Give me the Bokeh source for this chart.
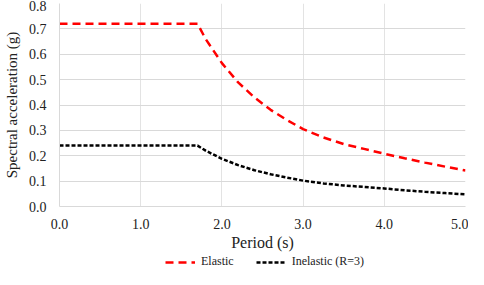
from bokeh.plotting import figure
from bokeh.layouts import column
from bokeh.models import Legend, LegendItem, Range1d, FixedTicker
from bokeh.embed import file_html
from bokeh.resources import INLINE

period = [0.0, 1.7, 1.8, 2.0, 2.2, 2.4, 2.6, 2.8, 3.0, 3.25, 3.5, 3.75, 4.0, 4.25, 4.5, 4.75, 5.0]
elastic = [0.72, 0.72, 0.66, 0.565, 0.489, 0.43, 0.381, 0.341, 0.305, 0.272, 0.246, 0.227, 0.208, 0.19, 0.173, 0.157, 0.142]
inelastic = [0.24, 0.24, 0.22, 0.188, 0.163, 0.143, 0.127, 0.114, 0.102, 0.091, 0.083, 0.077, 0.071, 0.064, 0.058, 0.053, 0.048]

x_ticks = [0, 1, 2, 3, 4, 5]
y_ticks = [0.0, 0.1, 0.2, 0.3, 0.4, 0.5, 0.6, 0.7, 0.8]
FONT = "Liberation Serif"
RED = "#ff0000"
RED_DASH = "8 5"
BLACK_DASH = "4 2"

p = figure(width=468, height=253, output_backend="svg", toolbar_location=None,
           x_range=Range1d(0, 5), y_range=Range1d(0, 0.8),
           min_border_left=50, min_border_right=3, min_border_top=3, min_border_bottom=0)
p.outline_line_color = None
p.background_fill_color = "white"

p.line(period, elastic, line_color=RED, line_width=2.5, line_dash=RED_DASH)
p.line(period, inelastic, line_color="black", line_width=2.5, line_dash=BLACK_DASH)

for ax in (p.xaxis[0], p.yaxis[0]):
    ax.major_tick_line_color = None
    ax.minor_tick_line_color = None
    ax.axis_line_color = "#d9d9d9"
    ax.major_label_text_font = FONT
    ax.major_label_text_font_size = "14px"
    ax.major_label_text_color = "#222222"
    ax.axis_label_text_font = FONT
    ax.axis_label_text_font_style = "normal"
    ax.axis_label_text_color = "#222222"

p.yaxis.axis_label_text_font_size = "15px"
p.xaxis.axis_label_text_font_size = "16px"
p.xaxis.ticker = FixedTicker(ticks=x_ticks)
p.yaxis.ticker = FixedTicker(ticks=y_ticks)
p.xaxis.major_label_overrides = {t: f"{t:.1f}" for t in x_ticks}
p.yaxis.major_label_overrides = {t: f"{t:.1f}" for t in y_ticks}
p.xaxis.axis_label = "Period (s)"
p.yaxis.axis_label = "Spectral acceleration (g)"
p.xaxis.major_label_standoff = 6
p.xaxis.axis_label_standoff = 2
p.yaxis.major_label_standoff = 7
p.yaxis.axis_label_standoff = 6

p.xgrid.ticker = FixedTicker(ticks=x_ticks)
p.ygrid.ticker = FixedTicker(ticks=y_ticks)
p.xgrid.grid_line_color = "#e3e3e3"
p.ygrid.grid_line_color = "#d9d9d9"

# legend strip below the chart (its lines lie outside the visible range)
lf = figure(width=468, height=16, output_backend="svg", toolbar_location=None,
            x_axis_type=None, y_axis_type=None, x_range=Range1d(0, 5), y_range=Range1d(10, 11),
            min_border=0)
lf.outline_line_color = None
lf.xgrid.visible = False
lf.ygrid.visible = False
lr1 = lf.line(period, elastic, line_color=RED, line_width=2.5, line_dash=RED_DASH)
lr2 = lf.line(period, inelastic, line_color="black", line_width=2.5, line_dash=BLACK_DASH)
legend = Legend(items=[LegendItem(label="Elastic", renderers=[lr1]),
                       LegendItem(label="Inelastic (R=3)", renderers=[lr2])],
                orientation="horizontal", location=(106, 0),
                label_text_font=FONT, label_text_font_size="12px",
                label_text_color="#222222", glyph_width=30, glyph_height=12,
                spacing=22, padding=1, margin=0, border_line_color=None,
                background_fill_alpha=0, label_standoff=6)
lf.add_layout(legend, "center")

layout = column(p, lf, spacing=0)
open("out.html", "w").write(file_html(layout, INLINE))
